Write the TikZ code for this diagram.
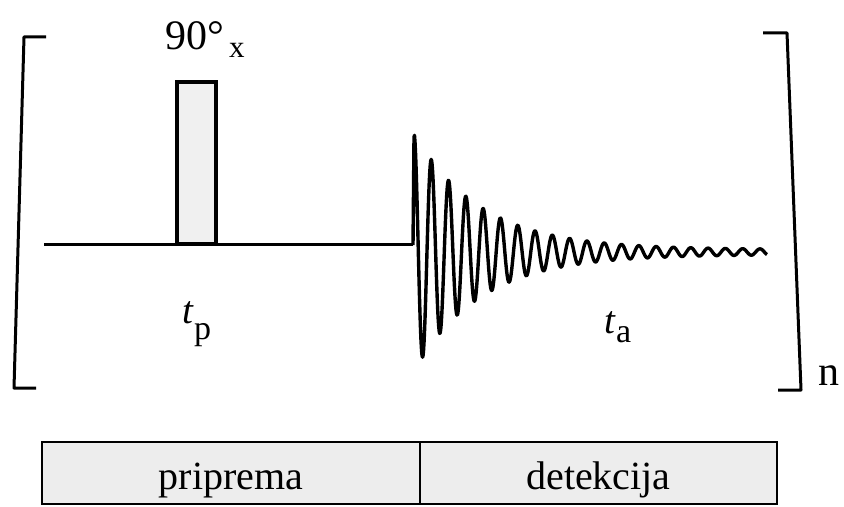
\documentclass[tikz,border=0pt]{standalone}
\usepackage{fontspec}
\setmainfont{Liberation Serif}
\usetikzlibrary{positioning}

\begin{document}
\begin{tikzpicture}[
      x=0.5pt, y=-0.5pt,
      line/.style   = {line width=1.5pt, line join=round},
      pulse/.style  = {rectangle, draw, line width=2.2pt, fill=gray!12,
                       minimum width=19.5pt, minimum height=81pt,
                       inner sep=0pt, outer sep=0pt},
      phase/.style  = {rectangle, draw, line width=1.3pt, fill=gray!14,
                       minimum height=31pt, inner sep=0pt, outer sep=0pt,
                       text height=20.4pt, text depth=4.4pt,
                       font=\fontsize{20}{24}\selectfont},
      lbl/.style    = {inner sep=0pt, font=\fontsize{21}{24}\selectfont},
      tlbl/.style   = {inner sep=0pt, anchor=base west,
                       font=\fontsize{19.5}{22}\selectfont},
    ]
    \useasboundingbox (0,0) rectangle (844,507);

    % brackets
    \draw[line] (46,37) -- (24,37) -- (14,388) -- (36,388);
    \draw[line] (763,33) -- (787,33) -- (801,390) -- (778,390);
    \node[lbl, anchor=base west] (rep) at (818,385) {n};

    % baseline and pulse
    \coordinate (start) at (44,245);
    \coordinate (fid0)  at (413,245);
    \draw[line] (start) -- (fid0);
    \node[pulse] (pls) at (196.5,163) {};
    \node[lbl, anchor=base west] (flip) at (165,50)
          {90°\hspace{2.5pt}\raisebox{-4pt}{\fontsize{15.5}{15}\selectfont x}};

    % FID
    \draw[line, line width=1.7pt] (fid0) -- (414,137)
          -- plot[domain=414.5:767, samples=700]
          (\x, {252 - (117*exp(-(\x-414)/66) + 2.5)*cos((\x-414)/17.3*360)});

    % time labels
    \node[tlbl] (tp) at (182,323)
          {\textit{t}\raisebox{-8pt}{\fontsize{17}{17}\selectfont p}};
    \node[tlbl] (ta) at (604,333)
          {\textit{t}\raisebox{-4.5pt}{\fontsize{17}{17}\selectfont a}};

    % phases
    \node[phase, anchor=west, minimum width=189pt] (prep) at (42,473) {priprema};
    \node[phase, right=0pt of prep, minimum width=178.5pt] (det) {detekcija};
  \end{tikzpicture}
\end{document}
